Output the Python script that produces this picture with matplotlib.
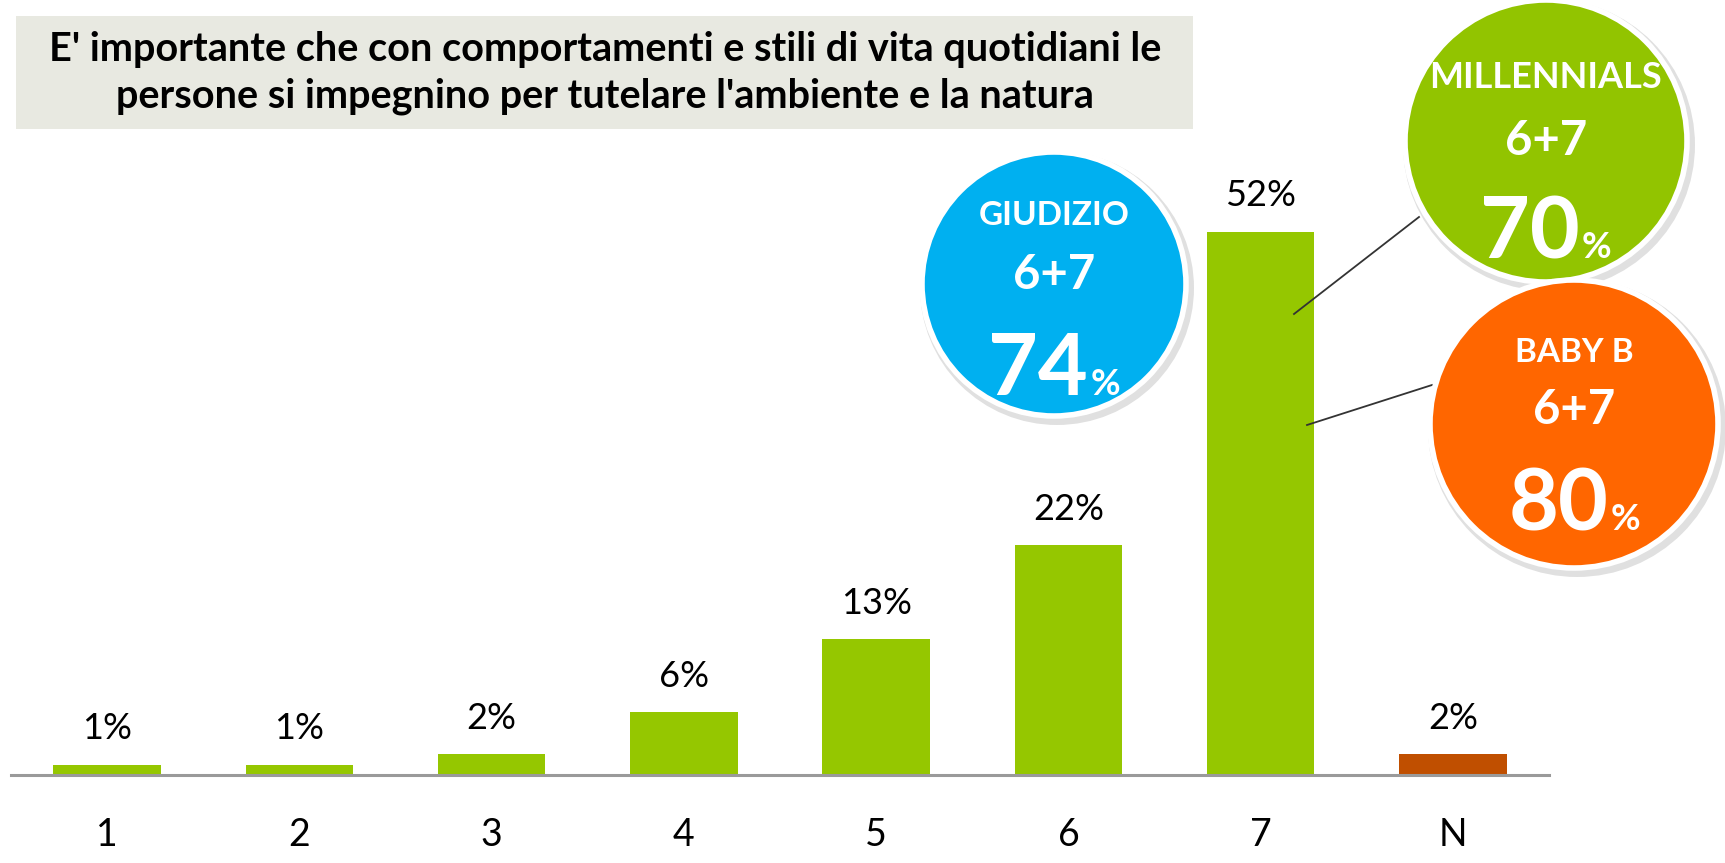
import matplotlib
matplotlib.use("Agg")
import matplotlib.pyplot as plt
from matplotlib.patches import Circle, Rectangle

plt.rcParams['font.family'] = ['Lato', 'DejaVu Sans']

# ---- data ----
categories = ["1", "2", "3", "4", "5", "6", "7", "N"]
values = [1, 1, 2, 6, 13, 22, 52, 2]
bar_colors = ["#95c700"] * 7 + ["#c04f00"]
title = "E' importante che con comportamenti e stili di vita quotidiani le\npersone si impegnino per tutelare l'ambiente e la natura"
callout_names = ["GIUDIZIO", "MILLENNIALS", "BABY B"]
callout_sub = ["6+7", "6+7", "6+7"]
callout_values = [74, 70, 80]
callout_colors = ["#00b0f0", "#92c400", "#ff6600"]

W, H = 1725, 863
fig = plt.figure(figsize=(W / 100, H / 100), dpi=100)
fig.patch.set_facecolor("white")

# main bar axes
ax_left, ax_right, base_y = 11, 1549, 775
px_per_pct = 10.45
ymax = 56
ax_h = ymax * px_per_pct
ax = fig.add_axes([ax_left / W, (H - base_y) / H, (ax_right - ax_left) / W, ax_h / H])
x = list(range(len(categories)))
bars = ax.bar(x, values, width=0.56, color=bar_colors, zorder=2)
ax.set_xlim(-0.5, len(categories) - 0.5)
ax.set_ylim(0, ymax)
for s in ["top", "right", "left"]:
    ax.spines[s].set_visible(False)
ax.spines["bottom"].set_color("#9a9a9a")
ax.spines["bottom"].set_linewidth(2.2)
ax.set_yticks([])
ax.set_xticks(x)
ax.set_xticklabels(categories, fontsize=27)
ax.tick_params(axis="x", length=0, pad=30)
ax.patch.set_alpha(0)

for xi, v in zip(x, values):
    ax.annotate(f"{v}%", (xi, v), xytext=(0, 14), textcoords="offset points",
                ha="center", va="bottom", fontsize=26, color="black")

# overlay axes in pixel coordinates for title box and callouts
ov = fig.add_axes([0, 0, 1, 1], zorder=5)
ov.set_xlim(0, W)
ov.set_ylim(H, 0)
ov.axis("off")
ov.patch.set_alpha(0)

ov.add_patch(Rectangle((16, 16), 1177, 113, facecolor="#e8e9e1", edgecolor="none"))
ov.text(605, 73, title, ha="center", va="center", fontsize=28.5, fontweight="bold",
        linespacing=1.3, color="black")

# leader lines
ov.plot([1294, 1419], [314, 217], color="#333333", lw=1.3, zorder=3)
ov.plot([1307, 1432], [425, 385], color="#333333", lw=1.3, zorder=3)

circles = [
    (1054, 284, 132),
    (1546, 141, 141),
    (1574, 424, 144),
]
name_dy = [-69, -64, -72]
name_fs = [24, 26, 24]
sub_dy = [-9, 0, -14]
val_base_dy = [111, 117, 106]

fig.canvas.draw()
renderer = fig.canvas.get_renderer()
for i, (cx, cy, r) in enumerate(circles):
    z = 10 + i * 2
    ov.add_patch(Circle((cx + 3, cy + 4), r + 5, facecolor="#000000", alpha=0.12,
                        edgecolor="none", zorder=z))
    ov.add_patch(Circle((cx, cy), r, facecolor=callout_colors[i], edgecolor="white",
                        lw=4, zorder=z + 0.5))
    ov.text(cx, cy + name_dy[i], callout_names[i], ha="center", va="center",
            fontsize=name_fs[i], fontweight="bold", color="white", zorder=z + 1)
    ov.text(cx, cy + sub_dy[i], callout_sub[i], ha="center", va="center",
            fontsize=34, fontweight="bold", color="white", zorder=z + 1)
    big = ov.text(0, cy + val_base_dy[i], f"{callout_values[i]}", ha="left", va="baseline",
                  fontsize=62, fontweight="bold", color="white", zorder=z + 1)
    pct = ov.text(0, cy + val_base_dy[i], "%", ha="left", va="baseline",
                  fontsize=26, fontweight="bold", color="white", zorder=z + 1)
    wb = big.get_window_extent(renderer).width
    wp = pct.get_window_extent(renderer).width
    total = wb + wp + 2
    x0 = cx - total / 2
    big.set_x(x0)
    pct.set_x(x0 + wb + 2)

fig.savefig("out.png", dpi=100, facecolor="white")
